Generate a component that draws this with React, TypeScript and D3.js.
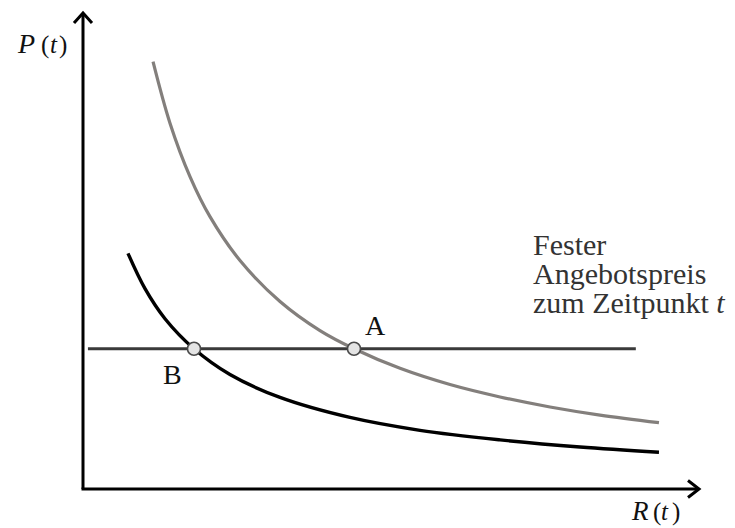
import React from "react";
import * as d3 from "d3";

// Data units: x 0..100 along R(t), y 0..100 along P(t)
const grayCurveX = [11.35, 14.1, 17.34, 20.58, 25.45, 31.93, 38.41, 43.92, 51.38, 59.48, 67.59, 75.69, 83.79, 93.35];
const grayCurveY = [89.6, 76.7, 65.5, 57.1, 47.9, 39.3, 33.2, 29.4, 25.3, 21.9, 19.3, 17.2, 15.5, 13.9];
const blackCurveX = [7.29, 10.05, 13.29, 17.99, 23.82, 31.93, 43.27, 54.62, 67.59, 80.55, 93.35];
const blackCurveY = [49.4, 42.0, 35.7, 29.4, 24.0, 19.2, 15.0, 12.3, 10.3, 8.8, 7.7];
const priceLevel = 29.4;
const priceLineX = [0.8, 89.6];
const pointLabels = ["A", "B"];
const pointX = [43.92, 17.99];
const annotationLines = ["Fester", "Angebotspreis", "zum Zeitpunkt "];

export default function App() {
  const W = 735, H = 528;
  const x = d3.scaleLinear().domain([0, 100]).range([83, 700]);
  const y = d3.scaleLinear().domain([0, 100]).range([489, 12]);
  const line = d3
    .line<[number, number]>()
    .x((d) => x(d[0]))
    .y((d) => y(d[1]))
    .curve(d3.curveCatmullRom.alpha(0.5));
  const gray = grayCurveX.map((v, i) => [v, grayCurveY[i]] as [number, number]);
  const black = blackCurveX.map((v, i) => [v, blackCurveY[i]] as [number, number]);
  const x0 = x(0), y0 = y(0), xEnd = x(100), yEnd = y(100);
  const font = "'Liberation Serif', 'DejaVu Serif', serif";
  return (
    <svg width={W} height={H} style={{ position: "absolute", left: 0, top: 0, background: "#fff" }}>
      {/* axes */}
      <line x1={x0} y1={y0} x2={x0} y2={yEnd + 1} stroke="#000" strokeWidth={3} />
      <line x1={x0 - 1.5} y1={y0} x2={xEnd - 1} y2={y0} stroke="#000" strokeWidth={3} />
      <polyline points={`${x0 - 9},${yEnd + 11} ${x0},${yEnd + 1} ${x0 + 9},${yEnd + 11}`} fill="none" stroke="#000" strokeWidth={3} />
      <polyline points={`${xEnd - 12},${y0 - 8.5} ${xEnd - 1},${y0} ${xEnd - 12},${y0 + 8.5}`} fill="none" stroke="#000" strokeWidth={3} />
      {/* curves */}
      <path d={line(gray) ?? ""} fill="none" stroke="#837f7c" strokeWidth={3.2} />
      <path d={line(black) ?? ""} fill="none" stroke="#000" strokeWidth={3.4} />
      {/* price line */}
      <line x1={x(priceLineX[0])} y1={y(priceLevel)} x2={x(priceLineX[1])} y2={y(priceLevel)} stroke="#3a3a3a" strokeWidth={3.2} />
      {pointX.map((px, i) => (
        <circle key={i} cx={x(px)} cy={y(priceLevel)} r={6.5} fill="#e4e4e4" stroke="#4a4a4a" strokeWidth={1.6} />
      ))}
      <text x={365} y={335} fontFamily={font} fontSize={28} fill="#111">{pointLabels[0]}</text>
      <text x={163} y={384} fontFamily={font} fontSize={28} fill="#111">{pointLabels[1]}</text>
      {/* axis labels */}
      <text y={53} fontFamily={font} fontSize={25} fill="#111">
        <tspan x={18} fontStyle="italic" fontSize={28}>P</tspan>
        <tspan x={41}>(</tspan>
        <tspan x={50} fontStyle="italic">t</tspan>
        <tspan x={59}>)</tspan>
      </text>
      <text y={520} fontFamily={font} fontSize={25} fill="#111">
        <tspan x={632} fontStyle="italic" fontSize={27}>R</tspan>
        <tspan x={653}>(</tspan>
        <tspan x={661} fontStyle="italic">t</tspan>
        <tspan x={672}>)</tspan>
      </text>
      {/* annotation */}
      <text fontFamily={font} fontSize={30} fill="#333">
        <tspan x={533} y={255}>{annotationLines[0]}</tspan>
        <tspan x={533} y={284}>{annotationLines[1]}</tspan>
        <tspan x={533} y={313}>{annotationLines[2]}<tspan fontStyle="italic">t</tspan></tspan>
      </text>
    </svg>
  );
}
